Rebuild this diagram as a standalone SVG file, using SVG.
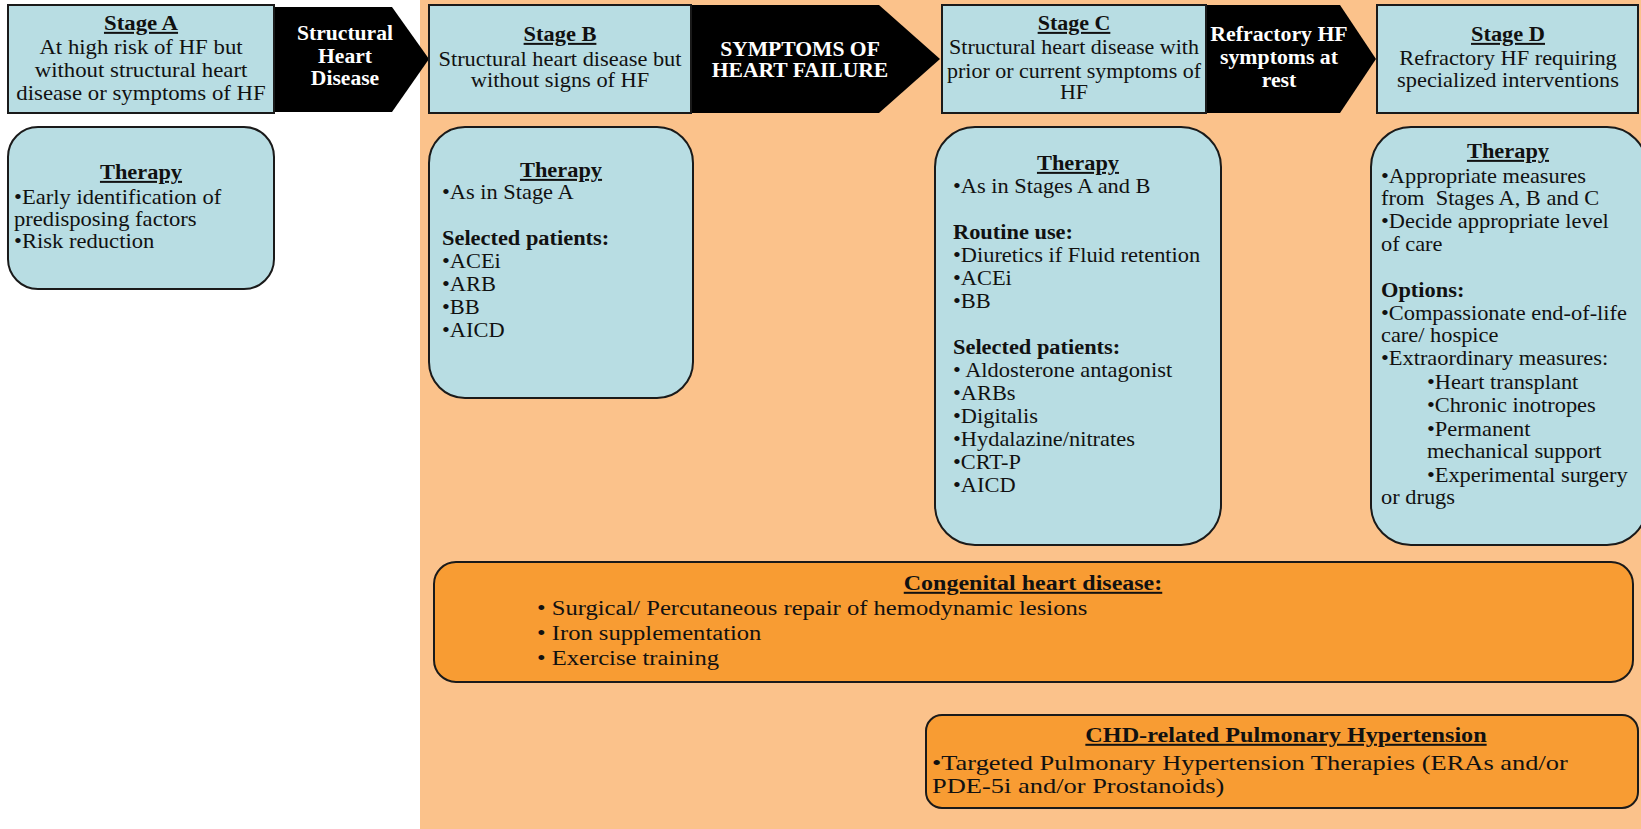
<svg xmlns="http://www.w3.org/2000/svg" width="1641" height="829" viewBox="0 0 1641 829">
<style>
.t{font-family:"Liberation Serif","Times New Roman",serif;font-size:20px;fill:#111}
.b{font-weight:bold}
.u{text-decoration:underline}
.w{fill:#fff;font-weight:bold}
.c{text-anchor:middle}
.pre{white-space:pre}
.box{fill:#B8DDE3;stroke:#1a1a1a;stroke-width:2}
.arr{fill:#000}
.obox{fill:#F89C33;stroke:#1a1a1a;stroke-width:2}
</style>
<rect x="0" y="0" width="1641" height="829" fill="#fff"/>
<rect x="420" y="0" width="1221" height="829" fill="#FBC28B"/>

<g id="connectors">
  <g id="arrow-structural">
    <polygon class="arr" points="274,7 392,7 429,59 392,112 274,112"/>
    <text class="t w c" transform="translate(345 0) scale(1.08 1)"><tspan x="0" y="40">Structural</tspan><tspan x="0" y="63">Heart</tspan><tspan x="0" y="85">Disease</tspan></text>
  </g>
  <g id="arrow-symptoms">
    <polygon class="arr" points="691,5 879,5 940,59 879,113 691,113"/>
    <text class="t w c" transform="translate(800 0) scale(1.08 1)"><tspan x="0" y="56">SYMPTOMS OF</tspan><tspan x="0" y="77">HEART FAILURE</tspan></text>
  </g>
  <g id="arrow-refractory">
    <polygon class="arr" points="1206,5 1340,5 1376,59 1340,113 1206,113"/>
    <text class="t w c" transform="translate(1279 0) scale(1.09 1)"><tspan x="0" y="41">Refractory HF</tspan><tspan x="0" y="64">symptoms at</tspan><tspan x="0" y="87">rest</tspan></text>
  </g>
</g>

<g id="stage-a">
  <rect class="box" x="8" y="5" width="266" height="108"/>
  <text class="t b u c" transform="translate(141 0) scale(1.14 1)" x="0" y="30">Stage A</text>
  <text class="t c" transform="translate(141 0) scale(1.14 1)"><tspan x="0" y="54">At high risk of HF but</tspan><tspan x="0" y="77">without structural heart</tspan><tspan x="0" y="100">disease or symptoms of HF</tspan></text>
</g>

<g id="stage-b">
  <rect class="box" x="429" y="5" width="262" height="108"/>
  <text class="t b u c" transform="translate(560 0) scale(1.12 1)" x="0" y="41">Stage B</text>
  <text class="t c" transform="translate(560 0) scale(1.12 1)"><tspan x="0" y="66">Structural heart disease but</tspan><tspan x="0" y="87">without signs of HF</tspan></text>
</g>

<g id="stage-c">
  <rect class="box" x="942" y="5" width="264" height="108"/>
  <text class="t b u c" transform="translate(1074 0) scale(1.1 1)" x="0" y="30">Stage C</text>
  <text class="t c" transform="translate(1074 0) scale(1.1 1)"><tspan x="0" y="54">Structural heart disease with</tspan><tspan x="0" y="78">prior or current symptoms of</tspan><tspan x="0" y="99">HF</tspan></text>
</g>

<g id="stage-d">
  <rect class="box" x="1377" y="5" width="261" height="108"/>
  <text class="t b u c" transform="translate(1508 0) scale(1.12 1)" x="0" y="41">Stage D</text>
  <text class="t c" transform="translate(1508 0) scale(1.12 1)"><tspan x="0" y="65">Refractory HF requiring</tspan><tspan x="0" y="87">specialized interventions</tspan></text>
</g>

<g id="therapy-a">
  <rect class="box" x="8" y="127" width="266" height="162" rx="30"/>
  <text class="t b u c" transform="translate(141 0) scale(1.12 1)" x="0" y="179">Therapy</text>
  <text class="t" transform="translate(14 0) scale(1.13 1)"><tspan x="0" y="204">•Early identification of</tspan><tspan x="0" y="226">predisposing factors</tspan><tspan x="0" y="248">•Risk reduction</tspan></text>
</g>

<g id="therapy-b">
  <rect class="box" x="429" y="127" width="264" height="271" rx="36"/>
  <text class="t b u c" transform="translate(561 0) scale(1.12 1)" x="0" y="177">Therapy</text>
  <text class="t" transform="translate(442 0) scale(1.12 1)"><tspan x="0" y="199">•As in Stage A</tspan><tspan x="0" y="245" class="b">Selected patients:</tspan><tspan x="0" y="268">•ACEi</tspan><tspan x="0" y="291">•ARB</tspan><tspan x="0" y="314">•BB</tspan><tspan x="0" y="337">•AICD</tspan></text>
</g>

<g id="therapy-c">
  <rect class="box" x="935" y="127" width="286" height="418" rx="40"/>
  <text class="t b u c" transform="translate(1078 0) scale(1.12 1)" x="0" y="170">Therapy</text>
  <text class="t" transform="translate(953 0) scale(1.12 1)"><tspan x="0" y="193">•As in Stages A and B</tspan><tspan x="0" y="239" class="b">Routine use:</tspan><tspan x="0" y="262">•Diuretics if Fluid retention</tspan><tspan x="0" y="285">•ACEi</tspan><tspan x="0" y="308">•BB</tspan><tspan x="0" y="354" class="b">Selected patients:</tspan><tspan x="0" y="377">• Aldosterone antagonist</tspan><tspan x="0" y="400">•ARBs</tspan><tspan x="0" y="423">•Digitalis</tspan><tspan x="0" y="446">•Hydalazine/nitrates</tspan><tspan x="0" y="469">•CRT-P</tspan><tspan x="0" y="492">•AICD</tspan></text>
</g>

<g id="therapy-d">
  <rect class="box" x="1371" y="127" width="276" height="418" rx="40"/>
  <text class="t b u c" transform="translate(1508 0) scale(1.12 1)" x="0" y="158">Therapy</text>
  <text class="t pre" transform="translate(1381 0) scale(1.12 1)"><tspan x="0" y="183">•Appropriate measures</tspan><tspan x="0" y="205">from  Stages A, B and C</tspan><tspan x="0" y="228">•Decide appropriate level</tspan><tspan x="0" y="251">of care</tspan><tspan x="0" y="297" class="b">Options:</tspan><tspan x="0" y="320">•Compassionate end-of-life</tspan><tspan x="0" y="342">care/ hospice</tspan><tspan x="0" y="365">•Extraordinary measures:</tspan><tspan x="41" y="389">•Heart transplant</tspan><tspan x="41" y="412">•Chronic inotropes</tspan><tspan x="41" y="436">•Permanent</tspan><tspan x="41" y="458">mechanical support</tspan><tspan x="41" y="482">•Experimental surgery</tspan><tspan x="0" y="504">or drugs</tspan></text>
</g>

<g id="congenital">
  <rect class="obox" x="434" y="562" width="1199" height="120" rx="22"/>
  <text class="t b u c" transform="translate(1033 0) scale(1.2 1)" x="0" y="590">Congenital heart disease:</text>
  <text class="t" transform="translate(537 0) scale(1.23 1)"><tspan x="0" y="615">• Surgical/ Percutaneous repair of hemodynamic lesions</tspan><tspan x="0" y="640">• Iron supplementation</tspan><tspan x="0" y="665">• Exercise training</tspan></text>
</g>

<g id="chd-ph">
  <rect class="obox" x="926" y="715" width="712" height="93" rx="16"/>
  <text class="t b u c" transform="translate(1286 0) scale(1.21 1)" x="0" y="742">CHD-related Pulmonary Hypertension</text>
  <text class="t" style="font-size:21px" transform="translate(932 0) scale(1.26 1)"><tspan x="0" y="770">•Targeted Pulmonary Hypertension Therapies (ERAs and/or</tspan><tspan x="0" y="793">PDE-5i and/or Prostanoids)</tspan></text>
</g>
</svg>
